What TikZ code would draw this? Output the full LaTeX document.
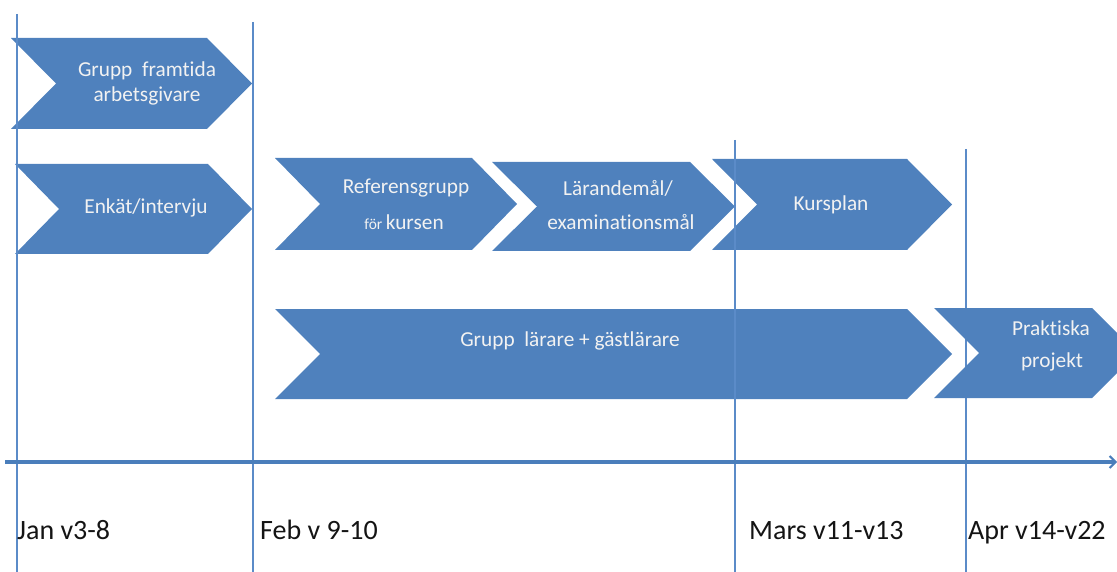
\documentclass[tikz,border=0pt]{standalone}
\usepackage{fontspec}
\setmainfont{Carlito}[Ligatures=NoCommon]
\usetikzlibrary{arrows.meta}
\definecolor{chevblue}{RGB}{79,129,189}
\definecolor{lineblue}{RGB}{91,139,200}
\definecolor{axisblue}{RGB}{74,126,187}
\definecolor{chevtext}{RGB}{242,242,242}
\definecolor{labeltext}{RGB}{20,20,20}
\tikzset{
  chev/.style={fill=chevblue, draw=none},
  vline/.style={draw=lineblue, line width=1.3pt},
  ctext/.style={text=chevtext, font=\fontsize{21.3}{23}\selectfont, inner sep=0pt, anchor=center},
  mlabel/.style={text=labeltext, font=\fontsize{28}{30}\selectfont, inner sep=0pt, anchor=base west},
  axis/.style={draw=axisblue, line width=3.5pt, -{Straight Barb[length=6pt,width=12pt,line width=2pt]}}
}
% \chevron{name}{x1}{xtip}{ytop}{ybot}{depth}
\newcommand\chevron[6]{%
  \path[chev] (#2,#4) -- (#3-#6,#4) -- (#3,{(#4+#5)/2}) -- (#3-#6,#5) -- (#2,#5) -- (#2+#6,{(#4+#5)/2}) -- cycle;
  \coordinate (#1) at ({(#2+#3)/2},{(#4+#5)/2});%
}
\begin{document}
\begin{tikzpicture}[x=1pt,y=-1pt]
\useasboundingbox (0,0) rectangle (1117,572);
\clip (0,0) rectangle (1117,572);
% line behind
\coordinate (v4t) at (966,149);
\coordinate (v4b) at (966,572);
\draw[vline] (v4t) -- (v4b);
% chevrons
\chevron{c1}{11}{252}{38}{129}{45}
\chevron{c2}{15}{252}{164}{254}{44}
\chevron{c3}{275}{517}{158}{250}{45}
\chevron{c4}{492}{735}{162}{251}{45}
\chevron{c5}{712}{952}{159}{250}{45}
\chevron{c6}{275}{952}{309}{399}{45}
\chevron{c7}{934}{1137}{308}{398}{45}
% vertical lines on top
\coordinate (v1t) at (17,14);
\coordinate (v1b) at (17,572);
\coordinate (v2t) at (253,22);
\coordinate (v2b) at (253,572);
\coordinate (v3t) at (735,140);
\coordinate (v3b) at (735,572);
\draw[vline] (v1t) -- (v1b);
\draw[vline] (v2t) -- (v2b);
\draw[vline] (v3t) -- (v3b);
% axis
\coordinate (ax0) at (5,462);
\coordinate (ax1) at (1117,462);
\draw[axis] (ax0) -- (ax1);
% chevron texts
\node[ctext] (t1a) at (147,71) {Grupp\ \ framtida};
\node[ctext] (t1b) at (147,96) {arbetsgivare};
\node[ctext] (t2) at (146,208) {Enkät/intervju};
\node[ctext] (t3a) at (406,188) {Referensgrupp};
\node[ctext] (t3b) at (404,222) {{\fontsize{15.5}{17}\selectfont för}\,kursen};
\node[ctext] (t4a) at (618,188) {Lärandemål/};
\node[ctext] (t4b) at (621,222) {examinationsmål};
\node[ctext] (t5) at (831,205) {Kursplan};
\node[ctext] (t6) at (570,341) {Grupp\ \ lärare + gästlärare};
\node[ctext] (t7a) at (1051,328) {Praktiska};
\node[ctext] (t7b) at (1052,362) {projekt};
% month labels
\node[mlabel] (m1) at (17,539) {Jan v3-8};
\node[mlabel] (m2) at (260,539) {Feb v 9-10};
\node[mlabel] (m3) at (749,539) {Mars v11-v13};
\node[mlabel] (m4) at (968,539) {Apr v14-v22};
\end{tikzpicture}
\end{document}
